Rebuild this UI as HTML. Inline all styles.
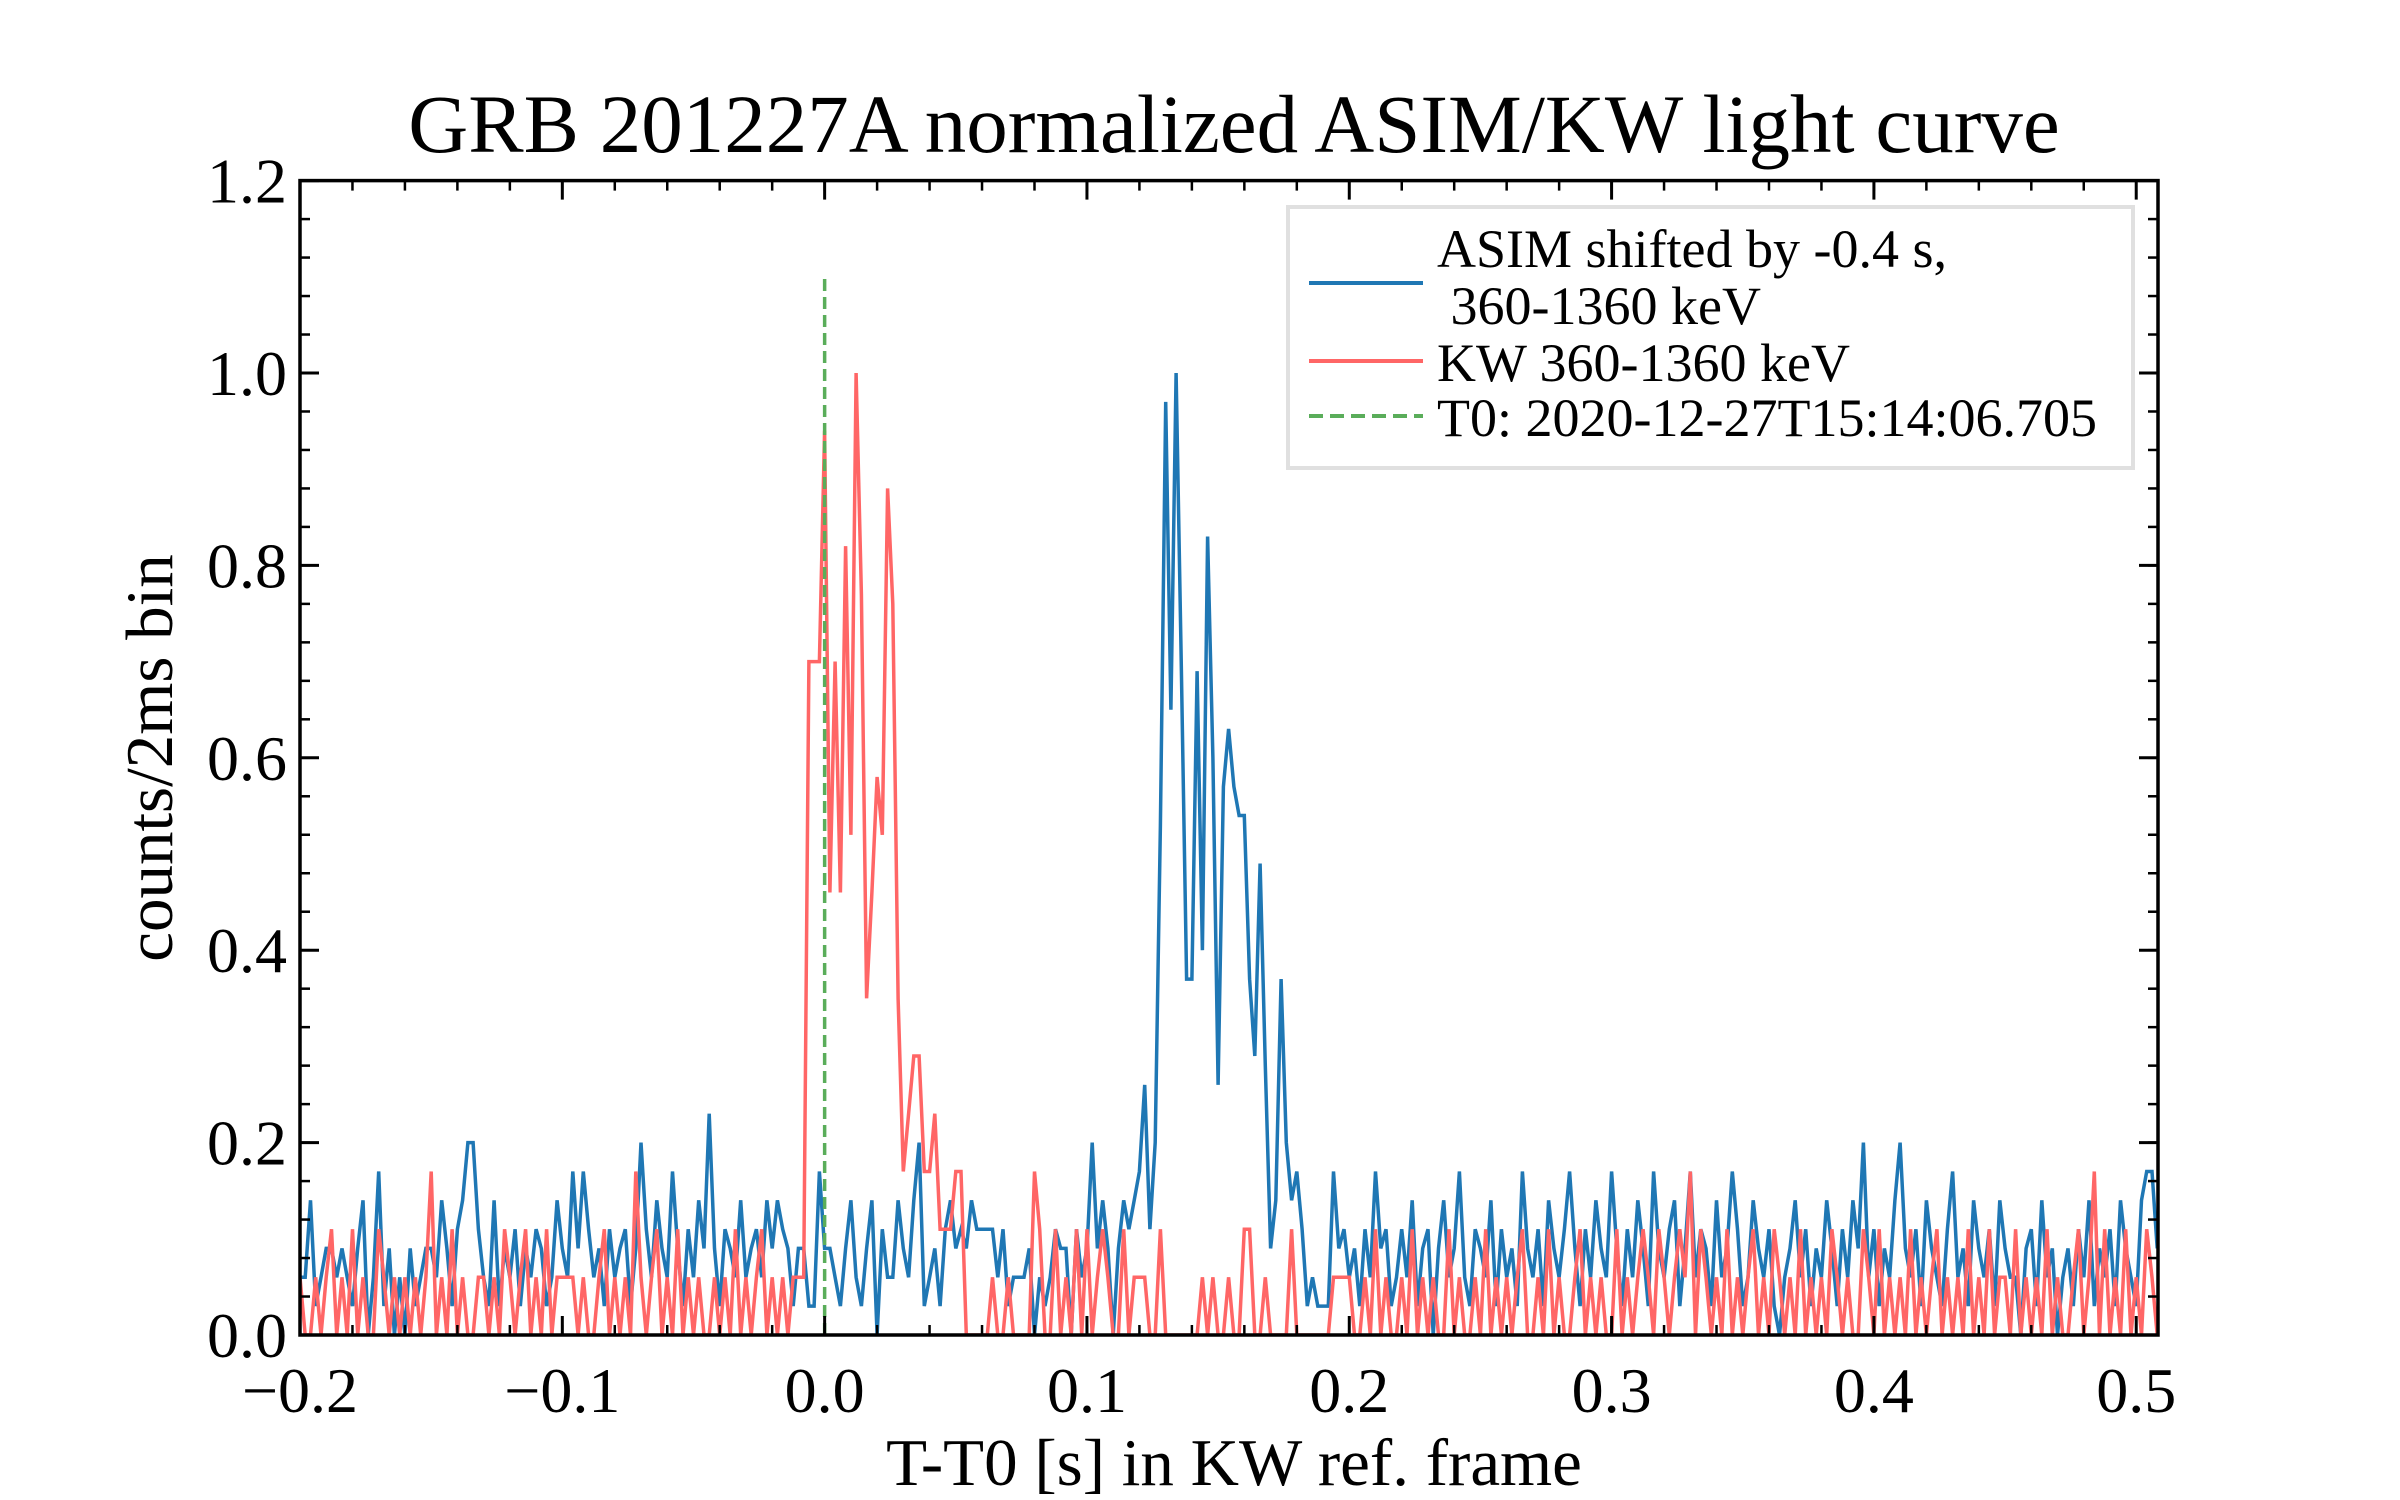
<!DOCTYPE html>
<html><head><meta charset="utf-8"><style>
html,body{margin:0;padding:0;background:#fff;}
svg{display:block;font-family:"Liberation Serif","DejaVu Serif",serif;}
</style></head><body>
<svg id="chart" width="2400" height="1500" viewBox="0 0 2400 1500">
<rect width="2400" height="1500" fill="#fff"/>
<text x="1234" y="152" font-size="83" text-anchor="middle">GRB 201227A normalized ASIM/KW light curve</text>
<text transform="translate(172,758) rotate(-90)" font-size="67" text-anchor="middle">counts/2ms bin</text>
<text x="1234" y="1485" font-size="67" text-anchor="middle">T-T0 [s] in KW ref. frame</text>
<g id="marks"></g>
<g id="axes"></g>
<g id="legend">
<rect x="1288" y="207" width="845" height="261" fill="#fff" stroke="#e0e0e0" stroke-width="4"/>
<line x1="1309" y1="283" x2="1423" y2="283" stroke="#1f77b4" stroke-width="4"/>
<text x="1437" y="267" font-size="54">ASIM shifted by -0.4 s,</text>
<text x="1437" y="324" font-size="54">&#160;360-1360 keV</text>
<line x1="1309" y1="361" x2="1423" y2="361" stroke="#ff6666" stroke-width="4"/>
<text x="1437" y="381" font-size="54">KW 360-1360 keV</text>
<line x1="1309" y1="416" x2="1423" y2="416" stroke="#5aad5a" stroke-width="4" stroke-dasharray="14,7"/>
<text x="1437" y="436" font-size="54">T0: 2020-12-27T15:14:06.705</text>
</g>
</svg>
<script>
const binStart = -0.2;
const binWidth = 0.002;
const t0Line = [0, 0, 1.1];
const xTicks = [-0.2, -0.1, 0.0, 0.1, 0.2, 0.3, 0.4, 0.5];
const xTickLabels = ["\u22120.2", "\u22120.1", "0.0", "0.1", "0.2", "0.3", "0.4", "0.5"];
const yTicks = [0, 0.2, 0.4, 0.6, 0.8, 1.0, 1.2];
const yTickLabels = ["0.0", "0.2", "0.4", "0.6", "0.8", "1.0", "1.2"];
const asim = [
.06,.06,.14,.03,.06,.09,.09,.06,.09,.06,
.03,.09,.14,.00,.06,.17,.03,.09,.00,.06,
.00,.09,.03,.06,.09,.09,.06,.14,.09,.03,
.11,.14,.20,.20,.11,.06,.03,.14,.03,.09,
.06,.11,.03,.09,.06,.11,.09,.03,.06,.14,
.09,.06,.17,.09,.17,.11,.06,.09,.03,.11,
.06,.09,.11,.03,.09,.20,.11,.06,.14,.09,
.06,.17,.09,.03,.11,.06,.14,.09,.23,.09,
.03,.11,.09,.06,.14,.06,.09,.11,.06,.14,
.09,.14,.11,.09,.03,.09,.09,.03,.03,.17,
.09,.09,.06,.03,.09,.14,.06,.03,.09,.14,
.00,.11,.06,.06,.14,.09,.06,.14,.20,.03,
.06,.09,.03,.11,.14,.09,.11,.09,.14,.11,
.11,.11,.11,.06,.11,.03,.06,.06,.06,.09,
.00,.06,.03,.06,.11,.09,.09,.00,.11,.06,
.09,.20,.09,.14,.09,.00,.09,.14,.11,.14,
.17,.26,.11,.20,.53,.97,.65,1.0,.69,.37,
.37,.69,.40,.83,.60,.26,.57,.63,.57,.54,
.54,.37,.29,.49,.28,.09,.14,.37,.20,.14,
.17,.11,.03,.06,.03,.03,.03,.17,.09,.11,
.06,.09,.03,.11,.06,.17,.09,.11,.03,.06,
.11,.06,.14,.03,.09,.11,.00,.09,.14,.06,
.09,.17,.06,.03,.11,.09,.06,.14,.03,.11,
.06,.09,.03,.17,.09,.06,.11,.03,.14,.09,
.06,.11,.17,.09,.03,.11,.06,.14,.09,.06,
.17,.09,.03,.11,.06,.14,.09,.03,.17,.09,
.06,.11,.14,.03,.09,.17,.06,.11,.09,.03,
.14,.06,.09,.17,.11,.03,.06,.14,.09,.06,
.11,.03,.00,.06,.09,.14,.06,.11,.03,.09,
.06,.14,.09,.03,.11,.06,.14,.09,.20,.06,
.11,.03,.09,.06,.14,.20,.09,.06,.11,.03,
.14,.09,.06,.03,.11,.17,.06,.09,.03,.14,
.09,.06,.11,.03,.14,.09,.06,.06,.00,.09,
.11,.03,.14,.06,.09,.00,.06,.09,.03,.11,
.06,.14,.03,.09,.06,.11,.03,.14,.09,.06,
.03,.14,.17,.17,.09];
const kw = [
.06,.00,.00,.06,.00,.06,.11,.00,.06,.00,
.11,.00,.06,.00,.00,.11,.06,.00,.06,.00,
.06,.00,.06,.00,.06,.17,.00,.06,.00,.11,
.00,.06,.00,.00,.06,.06,.00,.06,.00,.11,
.06,.00,.06,.11,.00,.06,.00,.11,.00,.06,
.06,.06,.06,.00,.06,.00,.00,.06,.11,.00,
.06,.00,.06,.00,.17,.06,.00,.06,.11,.00,
.06,.00,.11,.00,.06,.00,.06,.00,.00,.06,
.00,.06,.00,.11,.00,.06,.00,.06,.11,.00,
.06,.00,.06,.00,.06,.06,.06,.70,.70,.70,
.94,.46,.70,.46,.82,.52,1.0,.77,.35,.46,
.58,.52,.88,.76,.35,.17,.23,.29,.29,.17,
.17,.23,.11,.11,.11,.17,.17,.00,.00,.00,
.00,.00,.06,.00,.00,.06,.00,.00,.00,.00,
.17,.11,.00,.00,.11,.00,.06,.00,.11,.00,
.11,.00,.06,.11,.06,.00,.00,.11,.00,.06,
.06,.06,.00,.00,.11,.00,.00,.00,.00,.00,
.00,.00,.06,.00,.06,.00,.00,.06,.00,.00,
.11,.11,.00,.00,.06,.00,.00,.00,.00,.11,
.00,.00,.00,.00,.00,.00,.00,.06,.06,.06,
.06,.00,.00,.06,.00,.11,.00,.06,.00,.00,
.06,.00,.11,.00,.06,.00,.06,.00,.00,.11,
.00,.06,.00,.00,.06,.00,.11,.00,.06,.00,
.06,.00,.06,.11,.00,.00,.06,.00,.11,.00,
.06,.00,.00,.06,.11,.00,.06,.00,.06,.00,
.00,.11,.00,.06,.00,.06,.11,.06,.00,.11,
.06,.00,.06,.11,.06,.17,.00,.11,.06,.00,
.06,.00,.11,.00,.06,.00,.06,.11,.00,.06,
.00,.11,.06,.00,.06,.00,.11,.00,.06,.00,
.06,.00,.11,.06,.00,.06,.00,.00,.11,.06,
.00,.11,.00,.06,.00,.06,.00,.11,.00,.06,
.00,.06,.11,.00,.06,.00,.06,.00,.11,.00,
.06,.00,.11,.00,.06,.06,.00,.11,.00,.06,
.00,.06,.00,.11,.00,.06,.00,.00,.06,.11,
.00,.06,.17,.00,.11,.00,.06,.00,.11,.00,
.06,.00,.11,.06,.00];

const PL=300, PR=2158, PT=180.6, PB=1335;
const XMIN=-0.2, XMAX=0.5083, YMIN=0, YMAX=1.2;
function xs(v){return PL+(v-XMIN)/(XMAX-XMIN)*(PR-PL);}
function ys(v){return PB-(v-YMIN)/(YMAX-YMIN)*(PB-PT);}
const NS="http://www.w3.org/2000/svg";
function mk(tag, attrs, parent){const e=document.createElementNS(NS,tag);for(const k in attrs)e.setAttribute(k,attrs[k]);parent.appendChild(e);return e;}
const marks=document.getElementById('marks');
const axes=document.getElementById('axes');
const defs=mk('defs',{},marks);
const cp=mk('clipPath',{id:'clip'},defs);
mk('rect',{x:PL,y:PT,width:PR-PL,height:PB-PT},cp);
const g=mk('g',{'clip-path':'url(#clip)'},marks);

function series(vals,color,name){
  const pts=vals.map((v,i)=>xs(binStart+i*binWidth).toFixed(1)+','+ys(v).toFixed(1)).join(' ');
  const p=mk('polyline',{points:pts,fill:'none',stroke:color,'stroke-width':3.5,'stroke-linejoin':'miter'},g);
  
  
}
series(asim,'#1f77b4','asim-series');
series(kw,'#ff6666','kw-series');
const t0=mk('line',{x1:xs(t0Line[0]),x2:xs(t0Line[0]),y1:ys(t0Line[1]),y2:ys(t0Line[2]),stroke:'#5aad5a','stroke-width':3.5,'stroke-dasharray':'12,6'},g);



const frame=mk('rect',{x:PL,y:PT,width:PR-PL,height:PB-PT,fill:'none',stroke:'#000','stroke-width':3.5},axes);


for(let k=0;k<=40;k++){const v=-0.2+k*0.02; if(v>XMAX+1e-9)break; const x=xs(v);
  mk('line',{x1:x,x2:x,y1:PB,y2:PB-10,stroke:'#000','stroke-width':2.5},axes);
  mk('line',{x1:x,x2:x,y1:PT,y2:PT+10,stroke:'#000','stroke-width':2.5},axes);}
for(let k=0;k<=30;k++){const v=k*0.04; const y=ys(v);
  mk('line',{x1:PL,x2:PL+10,y1:y,y2:y,stroke:'#000','stroke-width':2.5},axes);
  mk('line',{x1:PR,x2:PR-10,y1:y,y2:y,stroke:'#000','stroke-width':2.5},axes);}
xTicks.forEach((v,i)=>{const x=xs(v);
  mk('line',{x1:x,x2:x,y1:PB,y2:PB-19,stroke:'#000','stroke-width':3},axes);
  mk('line',{x1:x,x2:x,y1:PT,y2:PT+19,stroke:'#000','stroke-width':3},axes);
  const t=mk('text',{x:x,y:1412,'font-size':64,'text-anchor':'middle'},axes);
  t.textContent=xTickLabels[i];
  
  
});
yTicks.forEach((v,i)=>{const y=ys(v);
  mk('line',{x1:PL,x2:PL+19,y1:y,y2:y,stroke:'#000','stroke-width':3},axes);
  mk('line',{x1:PR,x2:PR-19,y1:y,y2:y,stroke:'#000','stroke-width':3},axes);
  const t=mk('text',{x:287,y:y+22,'font-size':64,'text-anchor':'end'},axes);
  t.textContent=yTickLabels[i];
  
  
});
</script>
</body></html>
